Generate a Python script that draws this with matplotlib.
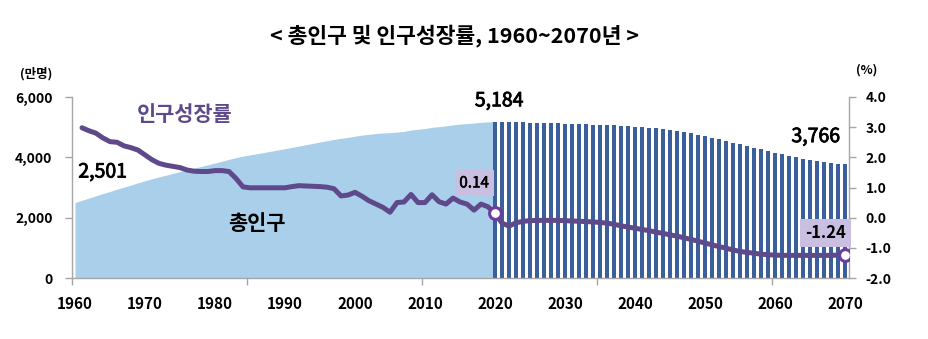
import matplotlib
matplotlib.use("Agg")
import matplotlib.pyplot as plt
import matplotlib.patheffects as pe
from matplotlib.ticker import FuncFormatter, FixedLocator

plt.rcParams['font.family'] = ['Noto Sans CJK KR', 'DejaVu Sans']
plt.rcParams['axes.unicode_minus'] = False

# 총인구 (만명), 1960~2020 추이
years_hist = list(range(1960, 2021))
pop_hist = [2501, 2577, 2650, 2726, 2801, 2870, 2944, 3013, 3082, 3154,
            3224, 3288, 3350, 3410, 3469, 3528, 3585, 3642, 3697, 3753,
            3812, 3873, 3933, 3991, 4041, 4081, 4121, 4162, 4203, 4245,
            4287, 4330, 4375, 4419, 4464, 4509, 4552, 4595, 4629, 4662,
            4701, 4737, 4764, 4789, 4808, 4818, 4837, 4860, 4905, 4931,
            4955, 4994, 5020, 5043, 5075, 5102, 5122, 5136, 5161, 5176,
            5184]

# 총인구 (만명), 2020~2070 장래추계
years_proj = list(range(2020, 2071))
pop_proj = [5184, 5178, 5170, 5165, 5158, 5152, 5146, 5140, 5136, 5130,
            5120, 5112, 5105, 5098, 5088, 5078, 5068, 5058, 5046, 5034,
            5020, 5004, 4986, 4965, 4942, 4915, 4880, 4840, 4795, 4745,
            4695, 4645, 4595, 4545, 4490, 4435, 4380, 4325, 4270, 4215,
            4160, 4108, 4055, 4005, 3960, 3920, 3880, 3845, 3815, 3790,
            3766]

# 인구성장률 (%), 1961~2070
years_rate = list(range(1961, 2071))
growth_rate = [2.98, 2.88, 2.80, 2.64, 2.52, 2.50, 2.38, 2.32, 2.24, 2.08,
               1.92, 1.80, 1.74, 1.70, 1.66, 1.58, 1.54, 1.53, 1.53, 1.56,
               1.56, 1.53, 1.30, 1.02, 0.99, 0.99, 0.99, 0.99, 0.99, 0.99,
               1.03, 1.06, 1.05, 1.04, 1.03, 1.01, 0.96, 0.72, 0.75, 0.84,
               0.71, 0.56, 0.45, 0.34, 0.18, 0.50, 0.52, 0.77, 0.50, 0.50,
               0.76, 0.53, 0.45, 0.65, 0.52, 0.45, 0.25, 0.45, 0.36, 0.14,
               -0.18, -0.28, -0.17, -0.12, -0.10, -0.09, -0.09, -0.09, -0.09, -0.10,
               -0.11, -0.12, -0.13, -0.14, -0.16, -0.18, -0.22, -0.27, -0.31, -0.35,
               -0.39, -0.43, -0.48, -0.52, -0.57, -0.61, -0.67, -0.72, -0.78, -0.84,
               -0.90, -0.96, -1.01, -1.07, -1.12, -1.15, -1.18, -1.21, -1.23, -1.24,
               -1.25, -1.25, -1.25, -1.25, -1.25, -1.25, -1.25, -1.25, -1.24, -1.24]

decade_labels = list(range(1960, 2071, 10))

AREA = '#AACFEA'
BAR = '#3B5F9A'
LINE = '#5E4A8A'
MARK = '#6A3D9E'
BOX = '#C9BFE0'
SPINE = '#A6A6A6'

# slightly heavier strokes for the value labels
thick = [pe.withStroke(linewidth=0.6, foreground='black')]

fig = plt.figure(figsize=(9.29, 3.39), dpi=100)
ax = fig.add_axes([72 / 929, 61 / 339, 777 / 929, 181 / 339])

ax.fill_between(years_hist, 0, pop_hist, color=AREA, linewidth=0, zorder=1)
ax.bar(years_proj, pop_proj, width=0.45, color=BAR, linewidth=0, zorder=2)

ax.set_xlim(1959.57, 2070.57)
ax.set_ylim(0, 6000)
ax.set_yticks([0, 2000, 4000, 6000])
ax.yaxis.set_major_formatter(FuncFormatter(lambda v, p: f"{int(v):,}"))

ax.set_xticks(decade_labels)
ax.set_xticklabels([str(y) for y in decade_labels])
ax.xaxis.set_minor_locator(FixedLocator([1959.57 + 25 * k for k in range(5)]))
ax.tick_params(axis='x', which='major', length=0, pad=13, labelsize=11)
ax.tick_params(axis='x', which='minor', length=5, width=1, color=SPINE, direction='out')
ax.tick_params(axis='y', length=5, width=1, color=SPINE, pad=9, labelsize=10)
for lab in ax.get_xticklabels() + ax.get_yticklabels():
    lab.set_fontweight('bold')

for s in ['top', 'right']:
    ax.spines[s].set_visible(False)
for s in ['left', 'bottom']:
    ax.spines[s].set_color(SPINE)
    ax.spines[s].set_linewidth(1)

ax2 = ax.twinx()
ax2.plot(years_rate, growth_rate, color=LINE, linewidth=3.6,
         solid_joinstyle='round', solid_capstyle='round', zorder=3)
i20 = years_rate.index(2020)
ax2.plot([years_rate[i20], years_rate[-1]], [growth_rate[i20], growth_rate[-1]],
         linestyle='none', marker='o', markersize=8.5, markerfacecolor='white',
         markeredgecolor=MARK, markeredgewidth=2.2, zorder=4)
ax2.set_ylim(-2, 4)
ax2.set_yticks([-2, -1, 0, 1, 2, 3, 4])
ax2.yaxis.set_major_formatter(FuncFormatter(lambda v, p: f"{v:.1f}"))
ax2.tick_params(axis='y', length=5, width=1, color=SPINE, pad=7, labelsize=10)
for lab in ax2.get_yticklabels():
    lab.set_fontweight('bold')
for s in ['top', 'left', 'bottom']:
    ax2.spines[s].set_visible(False)
ax2.spines['right'].set_color(SPINE)
ax2.spines['right'].set_linewidth(1)

# 값 레이블
val_style = dict(textcoords='offset points', ha='center', va='center',
                 fontsize=14, path_effects=thick)
ax.annotate(f"{pop_hist[0]:,}", (years_hist[0], pop_hist[0]), xytext=(20, 22), **val_style)
ax.annotate(f"{pop_proj[0]:,}", (years_proj[0], pop_proj[0]), xytext=(3, 15), **val_style)
ax.annotate(f"{pop_proj[-1]:,}", (years_proj[-1], pop_proj[-1]), xytext=(-21, 20), **val_style)

ax2.annotate(f"{growth_rate[i20]:.2f}", (years_rate[i20], growth_rate[i20]),
             xytext=(-15, 22), textcoords='offset points', ha='center', va='center',
             fontsize=11, zorder=5, path_effects=[pe.withStroke(linewidth=0.4, foreground='black')],
             bbox=dict(boxstyle='square,pad=0.3', facecolor=BOX, edgecolor='none'))
ax2.annotate(f"{growth_rate[-1]:.2f}", (years_rate[-1], growth_rate[-1]),
             xytext=(-14, 16), textcoords='offset points', ha='center', va='center',
             fontsize=12, fontweight='bold', zorder=5,
             bbox=dict(boxstyle='square,pad=0.32', facecolor=BOX, edgecolor='none'))

# 계열 이름
fig.text(185 / 929, 1 - 114 / 339, "인구성장률", color=LINE, fontsize=15,
         fontweight='bold', ha='center', va='center')
fig.text(257 / 929, 1 - 224 / 339, "총인구", color='black', fontsize=15,
         fontweight='bold', ha='center', va='center')

# 단위
fig.text(36 / 929, 1 - 74 / 339, "(만명)", fontsize=9, fontweight='bold',
         ha='center', va='center')
fig.text(867 / 929, 1 - 70 / 339, "(%)", fontsize=9, fontweight='bold',
         ha='center', va='center')

fig.text(455 / 929, 1 - 36 / 339, "< 총인구 및 인구성장률, 1960~2070년 >",
         fontsize=15.5, fontweight='bold', ha='center', va='center')

fig.savefig("out.png", dpi=100)
